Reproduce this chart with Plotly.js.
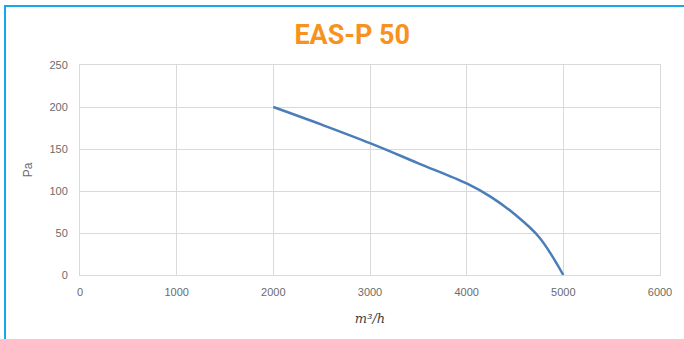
<!DOCTYPE html>
<html>
<head>
<meta charset="utf-8">
<script src="https://cdn.plot.ly/plotly-3.0.1.min.js"></script>
<style>
html,body{margin:0;padding:0;background:#fff;}
#wrap{position:relative;width:684px;height:339px;overflow:hidden;}
#chart{width:684px;height:339px;}
#frame{position:absolute;left:4px;top:5px;width:700px;height:400px;border-top:2px solid #14a9ec;border-left:2px solid #14a9ec;pointer-events:none;}
</style>
</head>
<body>
<div id="wrap"><div id="chart"></div><div id="frame"></div></div>
<script>
const flow = [2000, 2500, 3000, 3500, 4000, 4250, 4500, 4750, 5000];
const pressure = [200, 179, 157, 133, 109, 93, 72, 45, 0];
const xTicks = [0, 1000, 2000, 3000, 4000, 5000, 6000];
const yTicks = [0, 50, 100, 150, 200, 250];
const titleText = 'EAS-P 50';
const xTitle = 'm³/h';
const yTitle = 'Pa';

const gridColor = '#d9d9d9';
const tickFont = {family: 'Liberation Sans, Arial, sans-serif', size: 11, color: '#6b6b6b'};

Plotly.newPlot('chart', [{
  x: flow, y: pressure, type: 'scatter', mode: 'lines',
  line: {color: '#4a7eb8', width: 2.5, shape: 'spline', smoothing: 1},
  hoverinfo: 'skip'
}], {
  width: 684, height: 339,
  margin: {l: 80, r: 24, t: 65, b: 64},
  paper_bgcolor: '#ffffff', plot_bgcolor: '#ffffff',
  showlegend: false,
  title: {text: '<b>' + titleText + '</b>', x: 0.515, xanchor: 'center', y: 0.897, yanchor: 'middle',
          font: {family: 'Roboto, sans-serif', size: 27, color: '#f7921e'}},
  xaxis: {range: [0, 6000], tickvals: xTicks, ticktext: xTicks.map(String),
          showgrid: true, gridcolor: gridColor, gridwidth: 1, zeroline: false,
          showline: true, linecolor: gridColor, linewidth: 1, mirror: true,
          ticks: '', ticklen: 0, ticklabelstandoff: 7, tickfont: tickFont, fixedrange: true,
          title: {text: '<i>' + xTitle + '</i>', standoff: 16,
                  font: {family: 'DejaVu Serif, serif', size: 13, color: '#444'}}},
  yaxis: {range: [0, 250], tickvals: yTicks, ticktext: yTicks.map(String),
          showgrid: true, gridcolor: gridColor, gridwidth: 1, zeroline: false,
          showline: true, linecolor: gridColor, linewidth: 1, mirror: true,
          ticks: '', ticklen: 0, ticklabelstandoff: 9, tickfont: tickFont, fixedrange: true,
          title: {text: yTitle, standoff: 14,
                  font: {family: 'Liberation Sans, Arial, sans-serif', size: 12, color: '#6b6b6b'}}}
}, {staticPlot: true, displayModeBar: false});
</script>
</body>
</html>
